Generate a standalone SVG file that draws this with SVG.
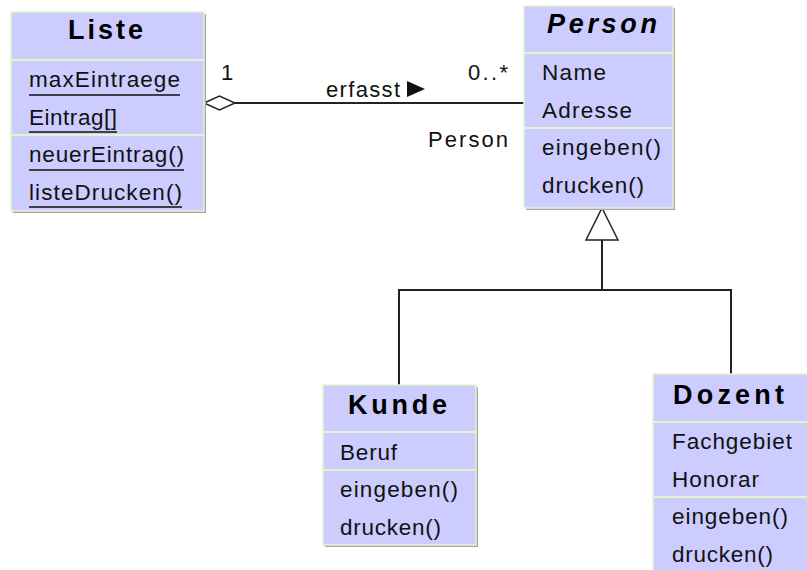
<svg xmlns="http://www.w3.org/2000/svg" width="807" height="570" viewBox="0 0 807 570">
<style>
.bg{fill:#ffffff}
.shadow{fill:#a6a6a6}
.box{fill:#ccccff;stroke:#e4f5cc;stroke-width:1.5}
.sep{stroke:#e4f5cc;stroke-width:2}
.m{font-family:"Liberation Sans",Arial,sans-serif;font-size:22.5px;fill:#111}
.title{font-family:"Liberation Sans",Arial,sans-serif;font-size:27px;font-weight:bold;fill:#000}
.ul{stroke:#111;stroke-width:1.5}
.conn{stroke:#222;stroke-width:2;fill:none}
.hollow{stroke:#222;stroke-width:1.5;fill:#ffffff}
.lbl{font-family:"Liberation Sans",Arial,sans-serif;font-size:22px;fill:#111}
</style>
<rect class="bg" x="0" y="0" width="807" height="570"/>

<g id="connectors">
  <line class="conn" x1="235" y1="103" x2="524" y2="103"/>
  <polygon class="hollow" points="204,103 219.5,96 235,103 219.5,110"/>
  <polyline class="conn" points="602,240 602,290"/>
  <polyline class="conn" points="399,385 399,290 731,290 731,374"/>
  <polygon class="hollow" points="602,208 618,240 586,240"/>
  <text class="lbl" x="221" y="80">1</text>
  <text class="lbl" x="468" y="80" textLength="40" lengthAdjust="spacing">0..*</text>
  <text class="lbl" x="326" y="97" textLength="74" lengthAdjust="spacing">erfasst</text>
  <polygon points="407,81 425,89 407,97" fill="#111"/>
  <text class="lbl" x="428" y="147" textLength="80" lengthAdjust="spacing">Person</text>
</g>

<g id="Liste">
  <rect class="shadow" x="13" y="14" width="193" height="199"/>
  <rect class="box" x="11" y="12" width="193" height="199"/>
  <line class="sep" x1="11" y1="60" x2="204" y2="60"/>
  <line class="sep" x1="11" y1="135" x2="204" y2="135"/>
  <text class="title" x="68" y="39" textLength="75" lengthAdjust="spacing">Liste</text>
  <text class="m" x="29" y="87" textLength="151" lengthAdjust="spacing">maxEintraege</text>
  <line class="ul" x1="29" y1="95" x2="180" y2="95"/>
  <text class="m" x="29" y="124.5" textLength="88" lengthAdjust="spacing">Eintrag[]</text>
  <line class="ul" x1="29" y1="132" x2="117" y2="132"/>
  <text class="m" x="29" y="162" textLength="155" lengthAdjust="spacing">neuerEintrag()</text>
  <line class="ul" x1="29" y1="170" x2="184" y2="170"/>
  <text class="m" x="29" y="199.5" textLength="153" lengthAdjust="spacing">listeDrucken()</text>
  <line class="ul" x1="29" y1="207" x2="182" y2="207"/>
</g>

<g id="Person">
  <rect class="shadow" x="526" y="8" width="149" height="202"/>
  <rect class="box" x="524" y="6" width="149" height="202"/>
  <line class="sep" x1="524" y1="53" x2="673" y2="53"/>
  <line class="sep" x1="524" y1="128" x2="673" y2="128"/>
  <text class="title" x="547" y="32.5" font-style="italic" textLength="110" lengthAdjust="spacing">Person</text>
  <text class="m" x="542" y="80" textLength="64" lengthAdjust="spacing">Name</text>
  <text class="m" x="542" y="117.5" textLength="90" lengthAdjust="spacing">Adresse</text>
  <text class="m" x="542" y="155" textLength="119" lengthAdjust="spacing">eingeben()</text>
  <text class="m" x="542" y="192.5" textLength="102" lengthAdjust="spacing">drucken()</text>
</g>

<g id="Kunde">
  <rect class="shadow" x="325" y="387" width="153" height="160"/>
  <rect class="box" x="323" y="385" width="153" height="160"/>
  <line class="sep" x1="323" y1="432" x2="476" y2="432"/>
  <line class="sep" x1="323" y1="470" x2="476" y2="470"/>
  <text class="title" x="348" y="414" textLength="99" lengthAdjust="spacing">Kunde</text>
  <text class="m" x="340" y="459.5" textLength="57" lengthAdjust="spacing">Beruf</text>
  <text class="m" x="340" y="497" textLength="118" lengthAdjust="spacing">eingeben()</text>
  <text class="m" x="340" y="534.5" textLength="101" lengthAdjust="spacing">drucken()</text>
</g>

<g id="Dozent">
  <rect class="shadow" x="655" y="376" width="157" height="202"/>
  <rect class="box" x="653" y="374" width="157" height="202"/>
  <line class="sep" x1="653" y1="422" x2="810" y2="422"/>
  <line class="sep" x1="653" y1="497" x2="810" y2="497"/>
  <text class="title" x="673" y="404" textLength="111" lengthAdjust="spacing">Dozent</text>
  <text class="m" x="672" y="449" textLength="120" lengthAdjust="spacing">Fachgebiet</text>
  <text class="m" x="672" y="486.5" textLength="87" lengthAdjust="spacing">Honorar</text>
  <text class="m" x="672" y="524" textLength="116" lengthAdjust="spacing">eingeben()</text>
  <text class="m" x="672" y="561.5" textLength="101" lengthAdjust="spacing">drucken()</text>
</g>
</svg>
